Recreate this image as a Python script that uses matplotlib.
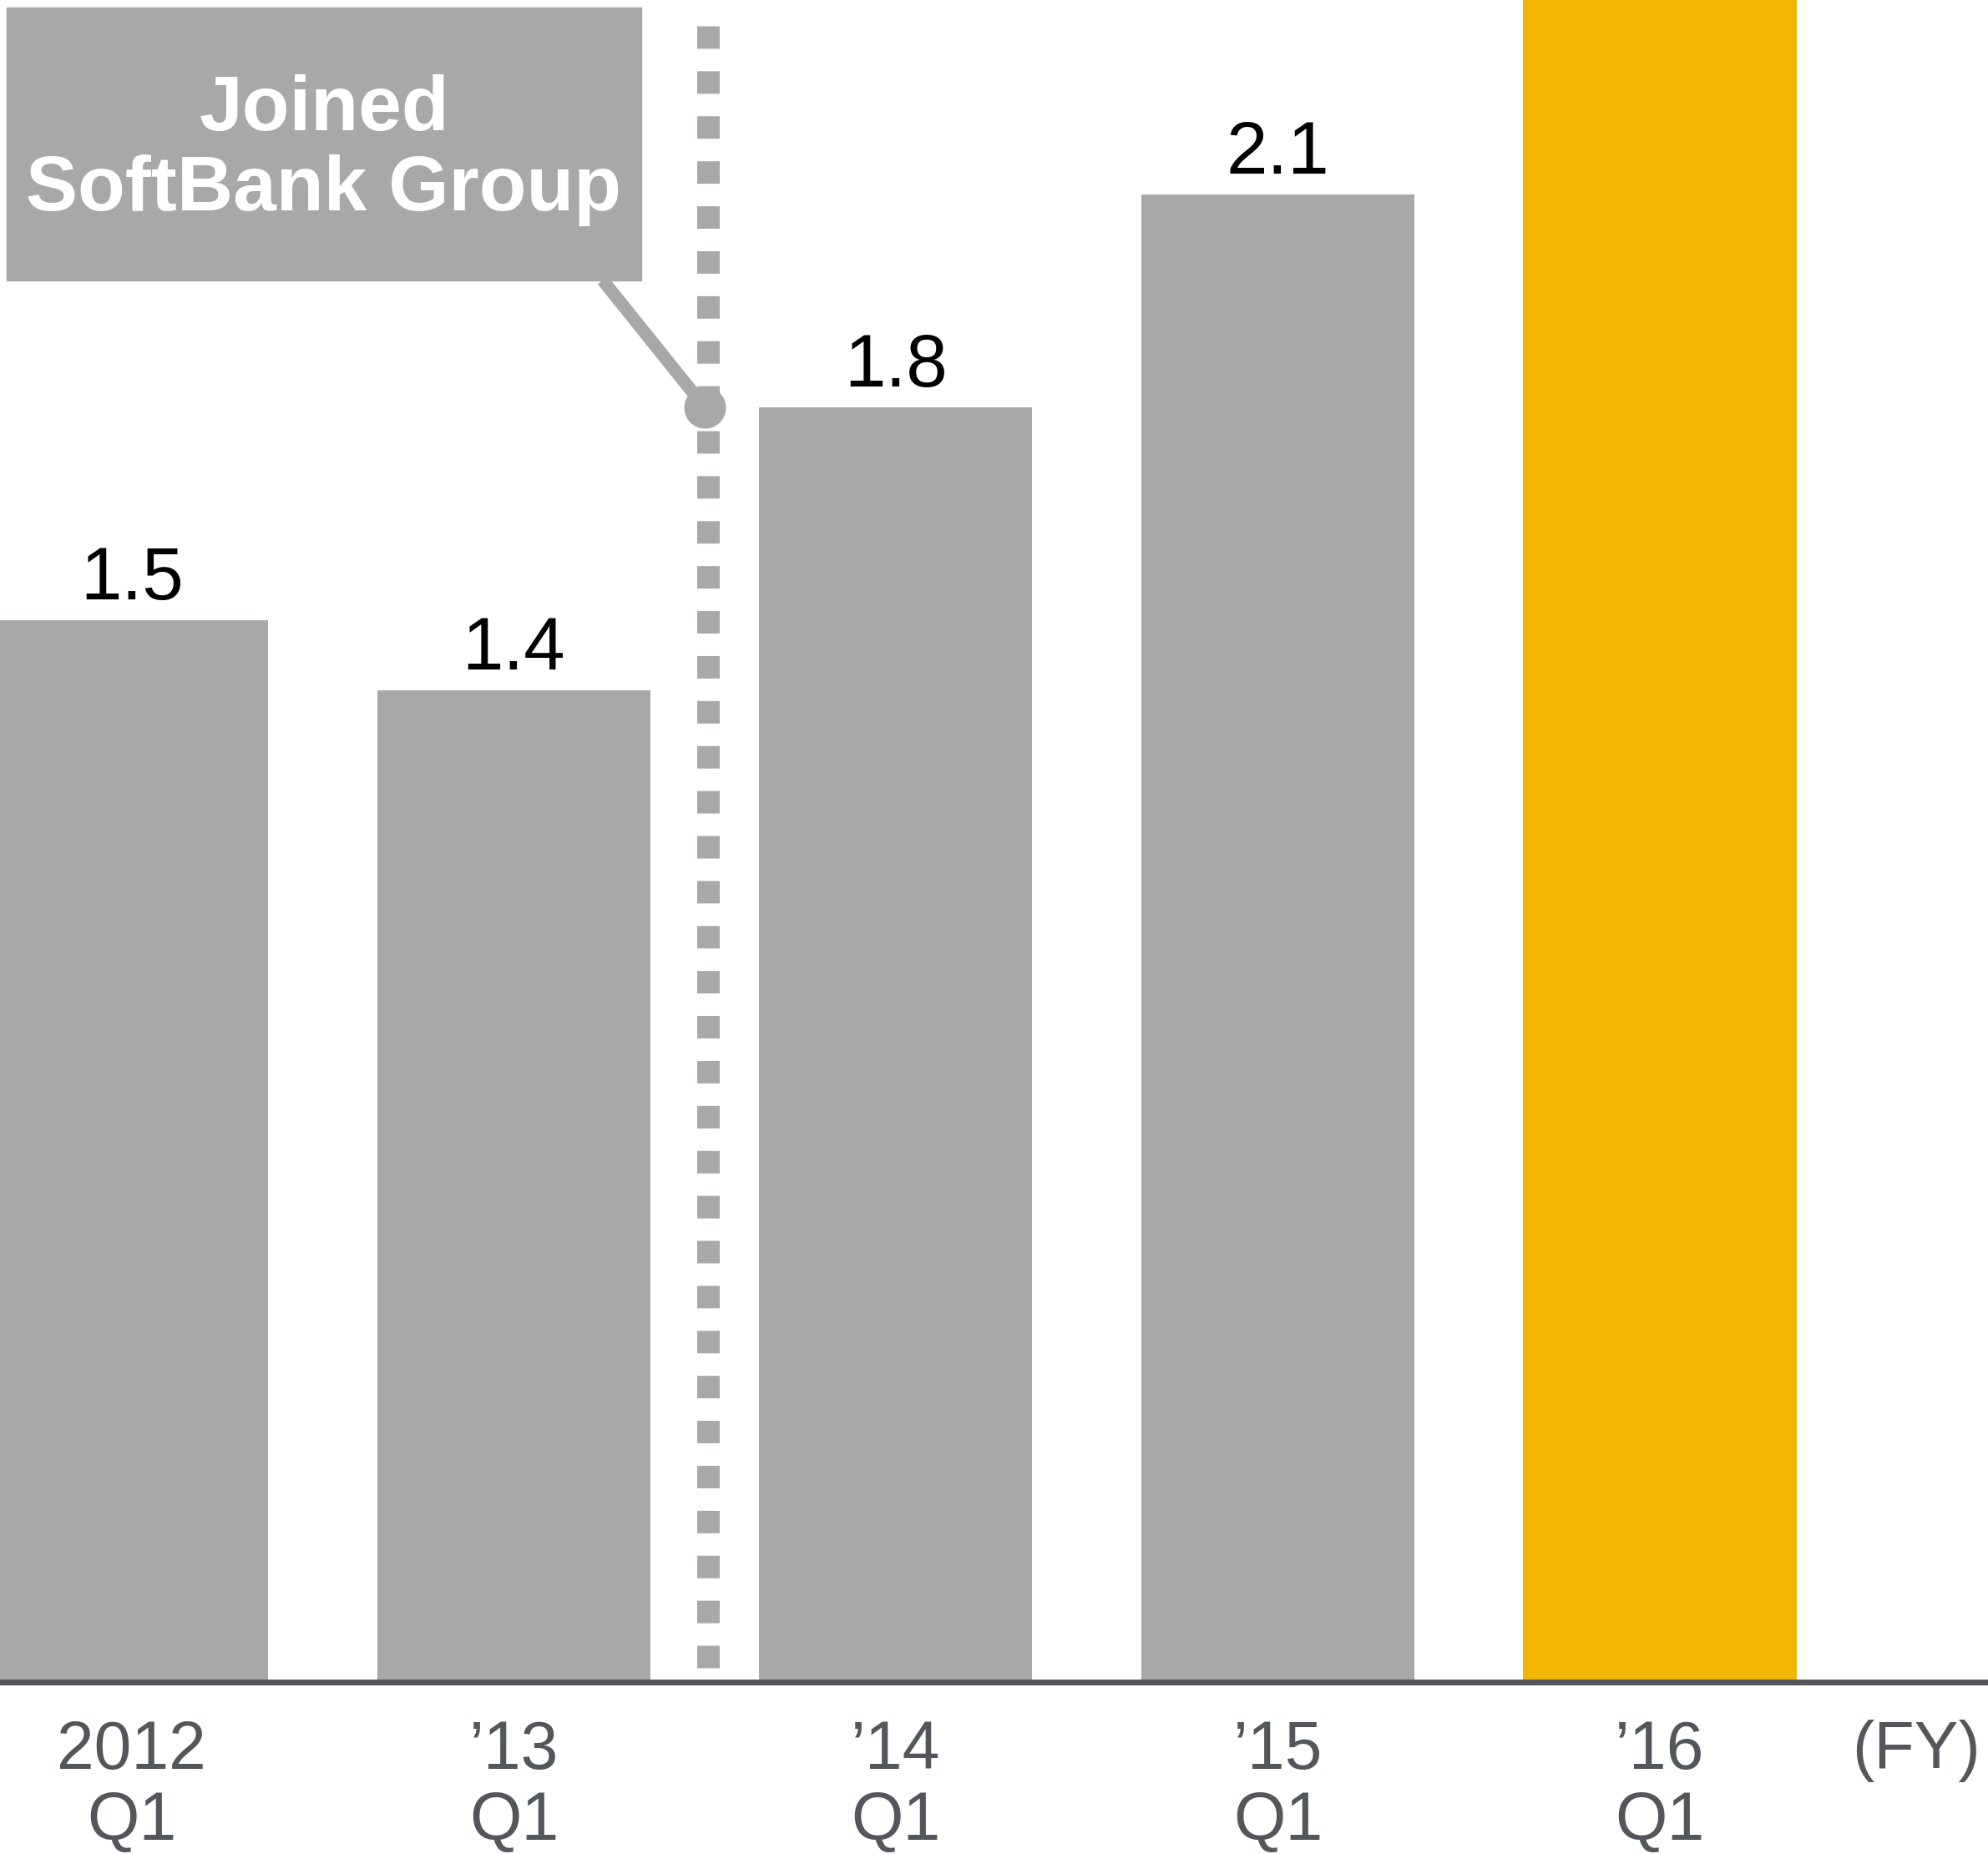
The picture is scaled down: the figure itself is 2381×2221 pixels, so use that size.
import matplotlib.pyplot as plt
from matplotlib.patches import Rectangle

plt.rcParams['font.family'] = ['Liberation Sans', 'DejaVu Sans']

# data
periods = ['2012\nQ1', '’13\nQ1', '’14\nQ1', '’15\nQ1', '’16\nQ1']
values = [1.5, 1.4, 1.8, 2.1, 2.6]   # last bar runs off the top of the chart
labelled = [True, True, True, True, False]
join_pos = 1.508   # between FY2013 and FY2014
join_text = 'Joined\nSoftBank Group'

GREY = '#a6a9a8'
YELLOW = '#f2b705'
DARK = '#53575c'

fig = plt.figure(figsize=(23.81, 22.21), dpi=100)
ax = fig.add_axes([0, 0.09253, 1, 0.90747])

x = list(range(len(values)))
colors = [GREY] * (len(values) - 1) + [YELLOW]
ax.bar(x, values, width=0.715, color=colors, zorder=2)

# value labels above the bars
for xi, v, show in zip(x, values, labelled):
    if show:
        ax.annotate(f'{v}', xy=(xi, v), xytext=(0, 18), textcoords='offset points',
                    ha='center', va='baseline', fontsize=64, color='black')

ax.set_xlim(-0.345, 4.859)
ax.set_ylim(0, 2.375)

# dotted separator line
ax.plot([join_pos, join_pos], [2.339, 0.01], color=GREY, lw=19.4,
        linestyle=(0, (1, 1)), dash_capstyle='butt', zorder=1)

# callout box
fig.patches.append(Rectangle((8 / 2381, 1 - 336 / 2221), 760 / 2381, 327 / 2221,
                             transform=fig.transFigure, color=GREY, zorder=3))
fig.text(388 / 2381, 1 - 252 / 2221, join_text, ha='center', va='baseline',
         ma='center', fontsize=67, fontweight='bold', color='white',
         linespacing=1.15, zorder=4)

# connector from box to the separator line
y_conn_top = (2015.5 - 336) / 848.5
ax.plot([(722 - 158) / 457.5, join_pos - 0.008], [y_conn_top, 1.8], color=GREY,
        lw=11, solid_capstyle='butt', zorder=3, clip_on=False)
ax.plot([join_pos - 0.008], [1.8], 'o', color=GREY, markersize=35, zorder=3)

# axes styling
for side in ['top', 'right', 'left']:
    ax.spines[side].set_visible(False)
ax.spines['bottom'].set_color(DARK)
ax.spines['bottom'].set_linewidth(5)
ax.spines['bottom'].set_zorder(5)
ax.set_yticks([])
ax.set_xticks(x)
ax.set_xticklabels(periods, fontsize=58, color=DARK, linespacing=1.15)
ax.tick_params(axis='x', length=0, pad=32)

ax.annotate('(FY)', xy=(1, 0), xycoords='axes fraction', xytext=(-6.5, -73.8),
            textcoords='offset points', ha='right', va='baseline',
            fontsize=57, color=DARK)

plt.savefig('out.png', dpi=100)
